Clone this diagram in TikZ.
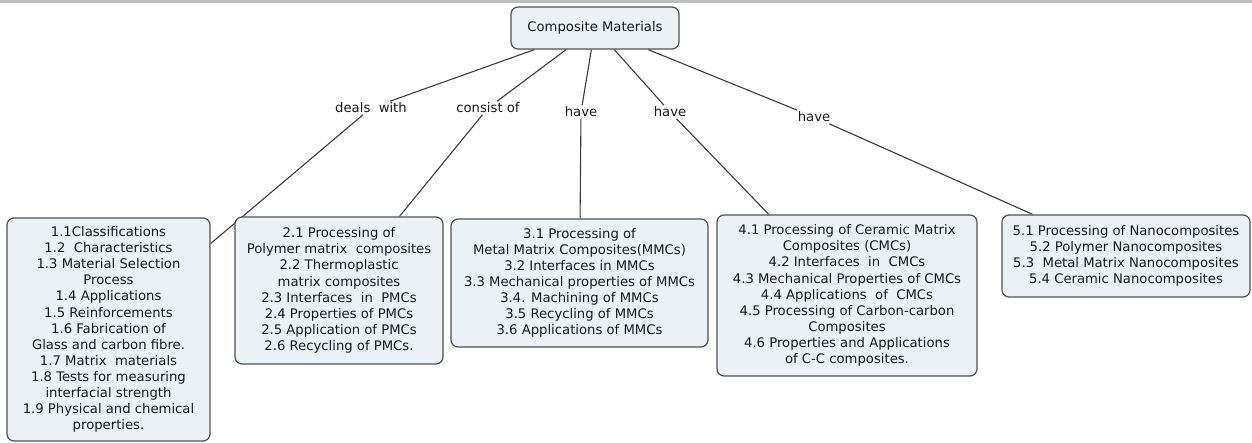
\documentclass[tikz,border=0pt]{standalone}
\usepackage{fontspec}
\setmainfont{DejaVu Sans}
\usetikzlibrary{backgrounds}
\definecolor{boxfill}{RGB}{235,241,244}
\definecolor{boxline}{RGB}{80,80,80}
\definecolor{connline}{RGB}{60,60,60}
\definecolor{band}{RGB}{190,190,190}
\begin{document}
\begin{tikzpicture}[x=1pt,y=-1pt,
  txt/.style={font=\fontsize{13.2}{16.1}\selectfont, text=black!90},
  cbox/.style={txt, draw=boxline, fill=boxfill, line width=1.2pt, rounded corners=7pt,
    align=center, inner sep=0pt},
  lbl/.style={txt, inner sep=1.5pt},
  conn/.style={draw=connline, line width=1.1pt}]
\useasboundingbox (0,0) rectangle (1252,443);
\fill[band] (0,0) rectangle (1252,3);
% labels
\node[lbl] (l1) at (371,108) {deals\ \ with};
\node[lbl] (l2) at (488,108) {consist of};
\node[lbl] (l3) at (581,112) {have};
\node[lbl] (l4) at (670,112) {have};
\node[lbl] (l5) at (814,117) {have};
% box centres
\coordinate (c0) at (595,28);
\coordinate (c1) at (108.5,329.5);
\coordinate (c2) at (339,290.5);
\coordinate (c3) at (579.5,283);
\coordinate (c4) at (847,295.5);
\coordinate (c5) at (1126,256);
% boxes
\path
 (c0) node[cbox, minimum width=168pt, minimum height=42pt] (root) {Composite Materials}
 (c1) node[cbox, minimum width=203pt, minimum height=223pt] (b1) {1.1Classifications\\
   1.2\ \ Characteristics\\ 1.3 Material Selection\\ Process\\ 1.4 Applications\\
   1.5 Reinforcements\\ 1.6 Fabrication of\\ Glass and carbon fibre.\\
   1.7 Matrix\ \ materials\\ 1.8 Tests for measuring\\ interfacial strength\\
   1.9 Physical and chemical\\ properties.}
 (c2) node[cbox, minimum width=208pt, minimum height=147pt] (b2) {2.1 Processing of\\
   Polymer matrix\ \ composites\\ 2.2 Thermoplastic\\ matrix composites\\
   2.3 Interfaces\ \ in\ \ PMCs\\ 2.4 Properties of PMCs\\ 2.5 Application of PMCs\\
   2.6 Recycling of PMCs.}
 (c3) node[cbox, minimum width=257pt, minimum height=128pt] (b3) {3.1 Processing of\\
   Metal Matrix Composites(MMCs)\\ 3.2 Interfaces in MMCs\\
   3.3 Mechanical properties of MMCs\\ 3.4. Machining of MMCs\\
   3.5 Recycling of MMCs\\ 3.6 Applications of MMCs}
 (c4) node[cbox, minimum width=260pt, minimum height=161pt] (b4) {4.1 Processing of Ceramic Matrix\\
   Composites (CMCs)\\ 4.2 Interfaces\ \ in\ \ CMCs\\ 4.3 Mechanical Properties of CMCs\\
   4.4 Applications\ \ of\ \ CMCs\\ 4.5 Processing of Carbon-carbon\\ Composites\\
   4.6 Properties and Applications\\ of C-C composites.}
 (c5) node[cbox, minimum width=248pt, minimum height=82pt] (b5) {5.1 Processing of Nanocomposites\\
   5.2 Polymer Nanocomposites\\ 5.3\ \ Metal Matrix Nanocomposites\\
   5.4 Ceramic Nanocomposites};
% connectors behind boxes
\begin{scope}[on background layer]
  \draw[conn] (root) -- (l1); \draw[conn] (l1) -- (b1);
  \draw[conn] (root) -- (l2); \draw[conn] (l2) -- (b2);
  \draw[conn] (root) -- (l3); \draw[conn] (l3) -- (b3);
  \draw[conn] (root) -- (l4); \draw[conn] (l4) -- (b4);
  \draw[conn] (root) -- (l5); \draw[conn] (l5) -- (b5);
\end{scope}
\end{tikzpicture}
\end{document}
